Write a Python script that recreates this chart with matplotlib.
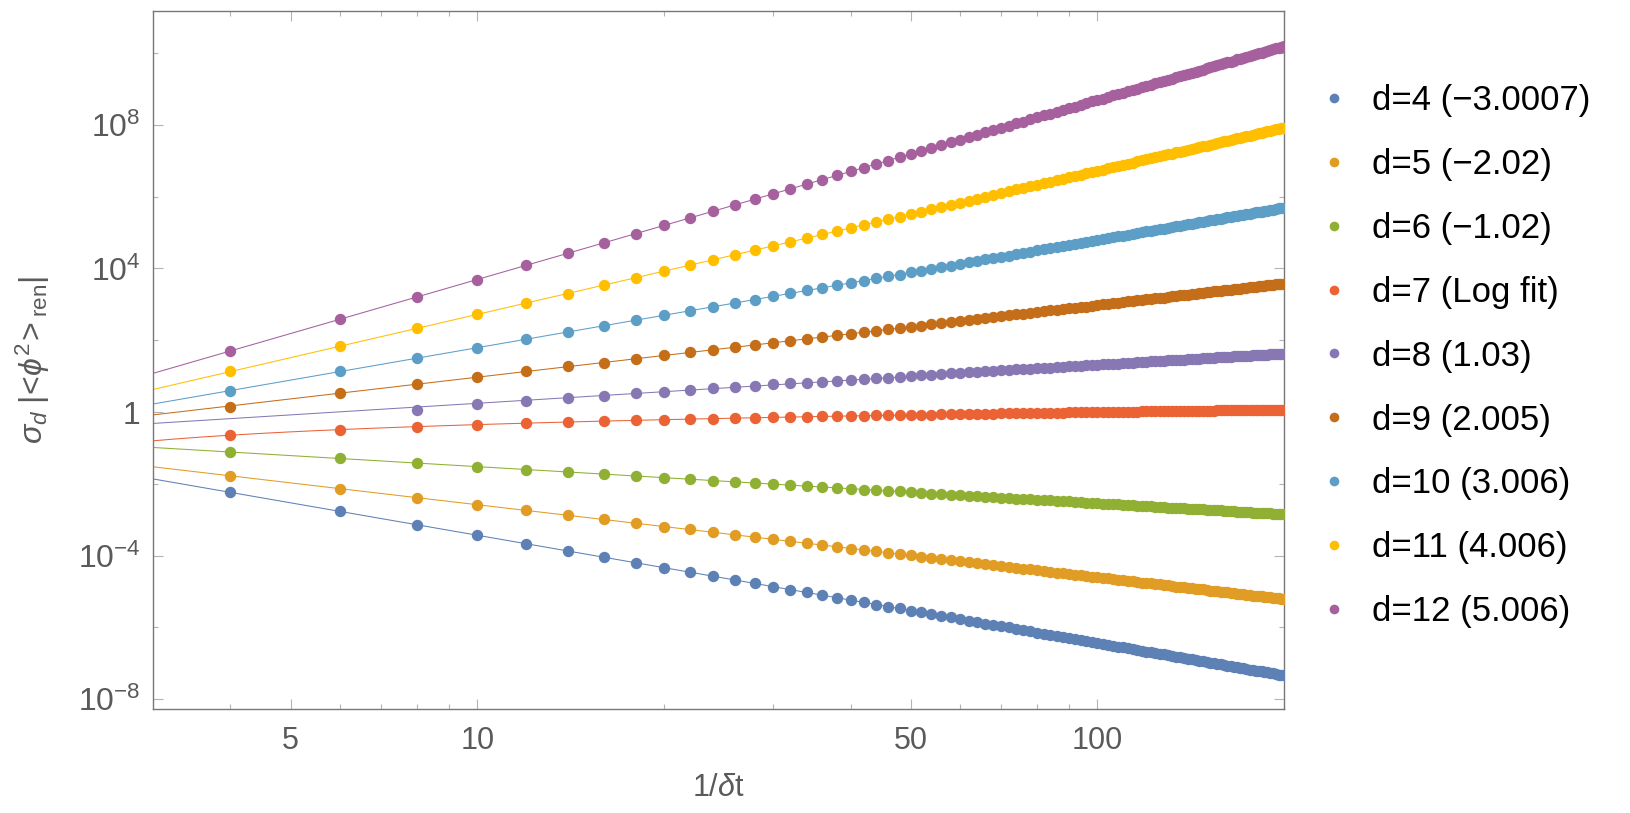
#!/usr/bin/env python3
"""
plot.py - log-log scaling of sigma_d |<phi^2>_ren| against 1/dt for d = 4..12
"""

import numpy as np
import matplotlib

matplotlib.use("Agg")
import matplotlib.pyplot as plt
from matplotlib.ticker import NullFormatter

plt.rcParams["font.family"] = ["Liberation Sans", "DejaVu Sans"]
plt.rcParams["mathtext.fontset"] = "custom"
plt.rcParams["mathtext.rm"] = "Liberation Sans"
plt.rcParams["mathtext.it"] = "Liberation Sans:italic"
plt.rcParams["mathtext.bf"] = "Liberation Sans:bold"

# 1/dt values (even steps 4..200)
n_vals = list(range(4, 201, 2))

# log10 of sigma_d |<phi^2>_ren|
log_d4 = [
    -2.24, -2.76, -3.14, -3.43, -3.67, -3.87, -4.04, -4.20, -4.33, -4.46,
    -4.57, -4.68, -4.77, -4.86, -4.95, -5.02, -5.10, -5.17, -5.24, -5.30,
    -5.36, -5.42, -5.47, -5.53, -5.58, -5.63, -5.67, -5.72, -5.76, -5.81,
    -5.85, -5.89, -5.93, -5.97, -6.00, -6.04, -6.07, -6.11, -6.14, -6.17,
    -6.20, -6.23, -6.26, -6.29, -6.32, -6.35, -6.38, -6.40, -6.43, -6.46,
    -6.48, -6.51, -6.53, -6.55, -6.58, -6.60, -6.62, -6.65, -6.67, -6.69,
    -6.71, -6.73, -6.75, -6.77, -6.79, -6.81, -6.83, -6.85, -6.87, -6.89,
    -6.91, -6.92, -6.94, -6.96, -6.98, -6.99, -7.01, -7.03, -7.04, -7.06,
    -7.07, -7.09, -7.11, -7.12, -7.14, -7.15, -7.17, -7.18, -7.20, -7.21,
    -7.22, -7.24, -7.25, -7.27, -7.28, -7.29, -7.31, -7.32, -7.33,
]
log_d5 = [
    -1.78, -2.13, -2.38, -2.58, -2.74, -2.88, -2.99, -3.10, -3.19, -3.27,
    -3.35, -3.42, -3.48, -3.54, -3.60, -3.65, -3.70, -3.75, -3.80, -3.84,
    -3.88, -3.92, -3.96, -3.99, -4.03, -4.06, -4.09, -4.12, -4.15, -4.18,
    -4.21, -4.24, -4.26, -4.29, -4.31, -4.34, -4.36, -4.38, -4.40, -4.43,
    -4.45, -4.47, -4.49, -4.51, -4.53, -4.55, -4.56, -4.58, -4.60, -4.62,
    -4.63, -4.65, -4.67, -4.68, -4.70, -4.71, -4.73, -4.75, -4.76, -4.77,
    -4.79, -4.80, -4.82, -4.83, -4.84, -4.86, -4.87, -4.88, -4.90, -4.91,
    -4.92, -4.93, -4.94, -4.96, -4.97, -4.98, -4.99, -5.00, -5.01, -5.02,
    -5.03, -5.04, -5.06, -5.07, -5.08, -5.09, -5.10, -5.11, -5.12, -5.13,
    -5.13, -5.14, -5.15, -5.16, -5.17, -5.18, -5.19, -5.20, -5.21,
]
log_d6 = [
    -1.11, -1.29, -1.42, -1.52, -1.60, -1.67, -1.73, -1.78, -1.83, -1.87,
    -1.91, -1.94, -1.98, -2.01, -2.04, -2.06, -2.09, -2.11, -2.13, -2.16,
    -2.18, -2.20, -2.21, -2.23, -2.25, -2.27, -2.28, -2.30, -2.31, -2.33,
    -2.34, -2.36, -2.37, -2.38, -2.39, -2.41, -2.42, -2.43, -2.44, -2.45,
    -2.46, -2.47, -2.48, -2.49, -2.50, -2.51, -2.52, -2.53, -2.54, -2.55,
    -2.56, -2.57, -2.57, -2.58, -2.59, -2.60, -2.61, -2.61, -2.62, -2.63,
    -2.64, -2.64, -2.65, -2.66, -2.66, -2.67, -2.68, -2.68, -2.69, -2.70,
    -2.70, -2.71, -2.71, -2.72, -2.73, -2.73, -2.74, -2.74, -2.75, -2.75,
    -2.76, -2.76, -2.77, -2.78, -2.78, -2.79, -2.79, -2.80, -2.80, -2.81,
    -2.81, -2.81, -2.82, -2.82, -2.83, -2.83, -2.84, -2.84, -2.85,
]
# d=7 grows only logarithmically: plain values, not log10
val_d7 = [
    0.227, 0.324, 0.394, 0.447, 0.491, 0.528, 0.560, 0.588, 0.613, 0.636,
    0.657, 0.676, 0.694, 0.711, 0.726, 0.741, 0.754, 0.767, 0.780, 0.791,
    0.803, 0.813, 0.823, 0.833, 0.843, 0.852, 0.861, 0.869, 0.877, 0.885,
    0.893, 0.900, 0.907, 0.914, 0.921, 0.927, 0.934, 0.940, 0.946, 0.952,
    0.958, 0.963, 0.969, 0.974, 0.980, 0.985, 0.990, 0.995, 1.000, 1.004,
    1.009, 1.014, 1.018, 1.023, 1.027, 1.031, 1.035, 1.039, 1.043, 1.047,
    1.051, 1.055, 1.059, 1.063, 1.066, 1.070, 1.073, 1.077, 1.080, 1.084,
    1.087, 1.090, 1.094, 1.097, 1.100, 1.103, 1.106, 1.109, 1.112, 1.115,
    1.118, 1.121, 1.124, 1.127, 1.130, 1.133, 1.135, 1.138, 1.141, 1.143,
    1.146, 1.149, 1.151, 1.154, 1.156, 1.159, 1.161, 1.164, 1.166,
]
# d=8 starts at 1/dt = 8
log_d8 = [
    0.06, 0.22, 0.30, 0.40, 0.46, 0.52, 0.57, 0.62,
    0.66, 0.70, 0.73, 0.77, 0.80, 0.82, 0.85, 0.87, 0.90, 0.92,
    0.94, 0.96, 0.98, 1.00, 1.02, 1.04, 1.06, 1.08, 1.09, 1.11,
    1.12, 1.13, 1.15, 1.16, 1.17, 1.19, 1.20, 1.21, 1.22, 1.23,
    1.24, 1.25, 1.26, 1.27, 1.28, 1.29, 1.30, 1.31, 1.32, 1.33,
    1.34, 1.35, 1.35, 1.36, 1.37, 1.38, 1.39, 1.39, 1.40, 1.41,
    1.42, 1.42, 1.43, 1.44, 1.44, 1.45, 1.46, 1.46, 1.47, 1.48,
    1.48, 1.49, 1.50, 1.50, 1.51, 1.51, 1.52, 1.52, 1.53, 1.54,
    1.54, 1.55, 1.55, 1.56, 1.56, 1.57, 1.57, 1.58, 1.58, 1.59,
    1.59, 1.60, 1.60, 1.61, 1.61, 1.62, 1.62, 1.63, 1.63,
]
log_d9 = [
    0.13, 0.53, 0.78, 0.98, 1.13, 1.27, 1.38, 1.49, 1.58, 1.66,
    1.74, 1.81, 1.87, 1.93, 1.99, 2.04, 2.09, 2.14, 2.18, 2.22,
    2.27, 2.30, 2.34, 2.38, 2.41, 2.44, 2.48, 2.51, 2.54, 2.56,
    2.59, 2.62, 2.64, 2.67, 2.69, 2.72, 2.74, 2.76, 2.79, 2.81,
    2.83, 2.85, 2.87, 2.89, 2.91, 2.93, 2.94, 2.96, 2.98, 3.00,
    3.01, 3.03, 3.05, 3.06, 3.08, 3.09, 3.11, 3.12, 3.14, 3.15,
    3.17, 3.18, 3.19, 3.21, 3.22, 3.23, 3.25, 3.26, 3.27, 3.29,
    3.30, 3.31, 3.32, 3.33, 3.34, 3.36, 3.37, 3.38, 3.39, 3.40,
    3.41, 3.42, 3.43, 3.44, 3.45, 3.46, 3.47, 3.48, 3.49, 3.50,
    3.51, 3.52, 3.53, 3.54, 3.55, 3.56, 3.57, 3.57, 3.58,
]
log_d10 = [
    0.60, 1.13, 1.50, 1.79, 2.03, 2.23, 2.40, 2.56, 2.69, 2.82,
    2.93, 3.04, 3.13, 3.22, 3.31, 3.39, 3.46, 3.53, 3.60, 3.66,
    3.72, 3.78, 3.83, 3.89, 3.94, 3.99, 4.04, 4.08, 4.13, 4.17,
    4.21, 4.25, 4.29, 4.33, 4.36, 4.40, 4.43, 4.47, 4.50, 4.53,
    4.56, 4.59, 4.62, 4.65, 4.68, 4.71, 4.74, 4.76, 4.79, 4.82,
    4.84, 4.87, 4.89, 4.91, 4.94, 4.96, 4.98, 5.01, 5.03, 5.05,
    5.07, 5.09, 5.11, 5.13, 5.15, 5.17, 5.19, 5.21, 5.23, 5.25,
    5.27, 5.28, 5.30, 5.32, 5.34, 5.35, 5.37, 5.39, 5.40, 5.42,
    5.43, 5.45, 5.47, 5.48, 5.50, 5.51, 5.53, 5.54, 5.56, 5.57,
    5.58, 5.60, 5.61, 5.63, 5.64, 5.65, 5.67, 5.68, 5.69,
]
log_d11 = [
    1.13, 1.83, 2.33, 2.72, 3.04, 3.30, 3.54, 3.74, 3.92, 4.09,
    4.24, 4.38, 4.51, 4.63, 4.74, 4.85, 4.95, 5.04, 5.13, 5.21,
    5.29, 5.37, 5.44, 5.52, 5.58, 5.65, 5.71, 5.77, 5.83, 5.89,
    5.94, 6.00, 6.05, 6.10, 6.15, 6.20, 6.24, 6.29, 6.33, 6.38,
    6.42, 6.46, 6.50, 6.54, 6.58, 6.61, 6.65, 6.68, 6.72, 6.75,
    6.79, 6.82, 6.85, 6.89, 6.92, 6.95, 6.98, 7.01, 7.04, 7.07,
    7.09, 7.12, 7.15, 7.18, 7.20, 7.23, 7.25, 7.28, 7.30, 7.33,
    7.35, 7.38, 7.40, 7.42, 7.45, 7.47, 7.49, 7.51, 7.54, 7.56,
    7.58, 7.60, 7.62, 7.64, 7.66, 7.68, 7.70, 7.72, 7.74, 7.76,
    7.78, 7.80, 7.82, 7.84, 7.85, 7.87, 7.89, 7.91, 7.92,
]
log_d12 = [
    1.70, 2.58, 3.21, 3.69, 4.09, 4.42, 4.71, 4.97, 5.20, 5.40,
    5.59, 5.77, 5.93, 6.08, 6.22, 6.35, 6.47, 6.59, 6.70, 6.81,
    6.91, 7.00, 7.10, 7.19, 7.27, 7.35, 7.43, 7.51, 7.58, 7.65,
    7.72, 7.79, 7.85, 7.92, 7.98, 8.04, 8.09, 8.15, 8.21, 8.26,
    8.31, 8.36, 8.41, 8.46, 8.51, 8.56, 8.60, 8.65, 8.69, 8.73,
    8.78, 8.82, 8.86, 8.90, 8.94, 8.97, 9.01, 9.05, 9.09, 9.12,
    9.16, 9.19, 9.23, 9.26, 9.29, 9.33, 9.36, 9.39, 9.42, 9.45,
    9.48, 9.51, 9.54, 9.57, 9.60, 9.63, 9.66, 9.68, 9.71, 9.74,
    9.76, 9.79, 9.82, 9.84, 9.87, 9.89, 9.92, 9.94, 9.97, 9.99,
    10.01, 10.04, 10.06, 10.08, 10.11, 10.13, 10.15, 10.17, 10.20,
]

labels = [
    "d=4 (\u22123.0007)", "d=5 (\u22122.02)", "d=6 (\u22121.02)",
    "d=7 (Log fit)", "d=8 (1.03)", "d=9 (2.005)",
    "d=10 (3.006)", "d=11 (4.006)", "d=12 (5.006)",
]
colors = [
    "#5E81B5", "#E19C24", "#8FB032", "#EB6235", "#8778B3",
    "#C56E1A", "#5D9EC7", "#FFBF00", "#A5609D",
]

X_MIN, X_MAX = 3, 200


def main() -> None:
    series = [
        (n_vals, log_d4, "pow"),
        (n_vals, log_d5, "pow"),
        (n_vals, log_d6, "pow"),
        (n_vals, val_d7, "log"),
        (n_vals[2:], log_d8, "pow"),
        (n_vals, log_d9, "pow"),
        (n_vals, log_d10, "pow"),
        (n_vals, log_d11, "pow"),
        (n_vals, log_d12, "pow"),
    ]

    fig = plt.figure(figsize=(16.3, 8.13), dpi=100)
    ax = fig.add_axes([153 / 1630, 104 / 813, 1131 / 1630, 698 / 813])
    ax.set_xscale("log")
    ax.set_yscale("log")

    xs = np.geomspace(X_MIN, X_MAX, 60)
    for (n, data, kind), color, label in zip(series, colors, labels):
        n = np.asarray(n, dtype=float)
        data = np.asarray(data, dtype=float)
        if kind == "pow":
            y = 10.0 ** data
            slope, icpt = np.polyfit(np.log10(n), data, 1)
            fit = 10.0 ** (icpt + slope * np.log10(xs))
        else:
            y = data
            b, a = np.polyfit(np.log(n), data, 1)
            fit = a + b * np.log(xs)
        ax.plot(xs, fit, color=color, lw=0.75, zorder=2)
        ax.plot(n, y, "o", color=color, ms=8.2, mew=0, zorder=3, label=label)

    ax.set_xlim(X_MIN, X_MAX)
    ax.set_ylim(10 ** -8.27, 10 ** 11.17)

    ax.set_xticks([5, 10, 50, 100])
    ax.set_xticklabels(["5", "10", "50", "100"])
    ax.set_xticks([4, 6, 7, 8, 9, 20, 30, 40, 60, 70, 80, 90, 200], minor=True)
    ax.xaxis.set_minor_formatter(NullFormatter())

    ax.set_yticks([1e-8, 1e-4, 1, 1e4, 1e8])
    ax.set_yticklabels([r"$10^{-8}$", r"$10^{-4}$", "1", r"$10^{4}$", r"$10^{8}$"])
    ax.set_yticks([1e-6, 1e-2, 1e2, 1e6, 1e10], minor=True)
    ax.yaxis.set_minor_formatter(NullFormatter())

    gray = "#5a5a5a"
    ax.tick_params(which="both", direction="in", top=True, right=True,
                   color="#b4b4b4", width=0.8, labelcolor=gray)
    ax.tick_params(which="major", length=7.5)
    ax.tick_params(which="minor", length=3.8)
    ax.tick_params(axis="x", pad=12, labelsize=22)
    ax.tick_params(axis="y", pad=9, labelsize=23)
    for sp in ax.spines.values():
        sp.set_color("#777777")
        sp.set_linewidth(1.0)

    ax.set_xlabel(r"1/$\delta$t", fontsize=22, color=gray)
    ax.xaxis.set_label_coords(0.5, -0.092)
    ax.set_ylabel(r"$\sigma_d\;|\!<\!\phi^2\!>_{\mathrm{ren}}|$",
                  fontsize=23, color=gray)
    ax.yaxis.set_label_coords(-0.089, 0.5)

    fig.legend(loc="upper left", bbox_to_anchor=(1325 / 1630, 1 - 84 / 813),
               frameon=False, fontsize=25, markerscale=0.85, handlelength=0.5,
               handletextpad=0.85, labelspacing=0.89, borderpad=0,
               borderaxespad=0)

    fig.savefig("out.png", dpi=100)
    plt.close(fig)


if __name__ == "__main__":
    main()
